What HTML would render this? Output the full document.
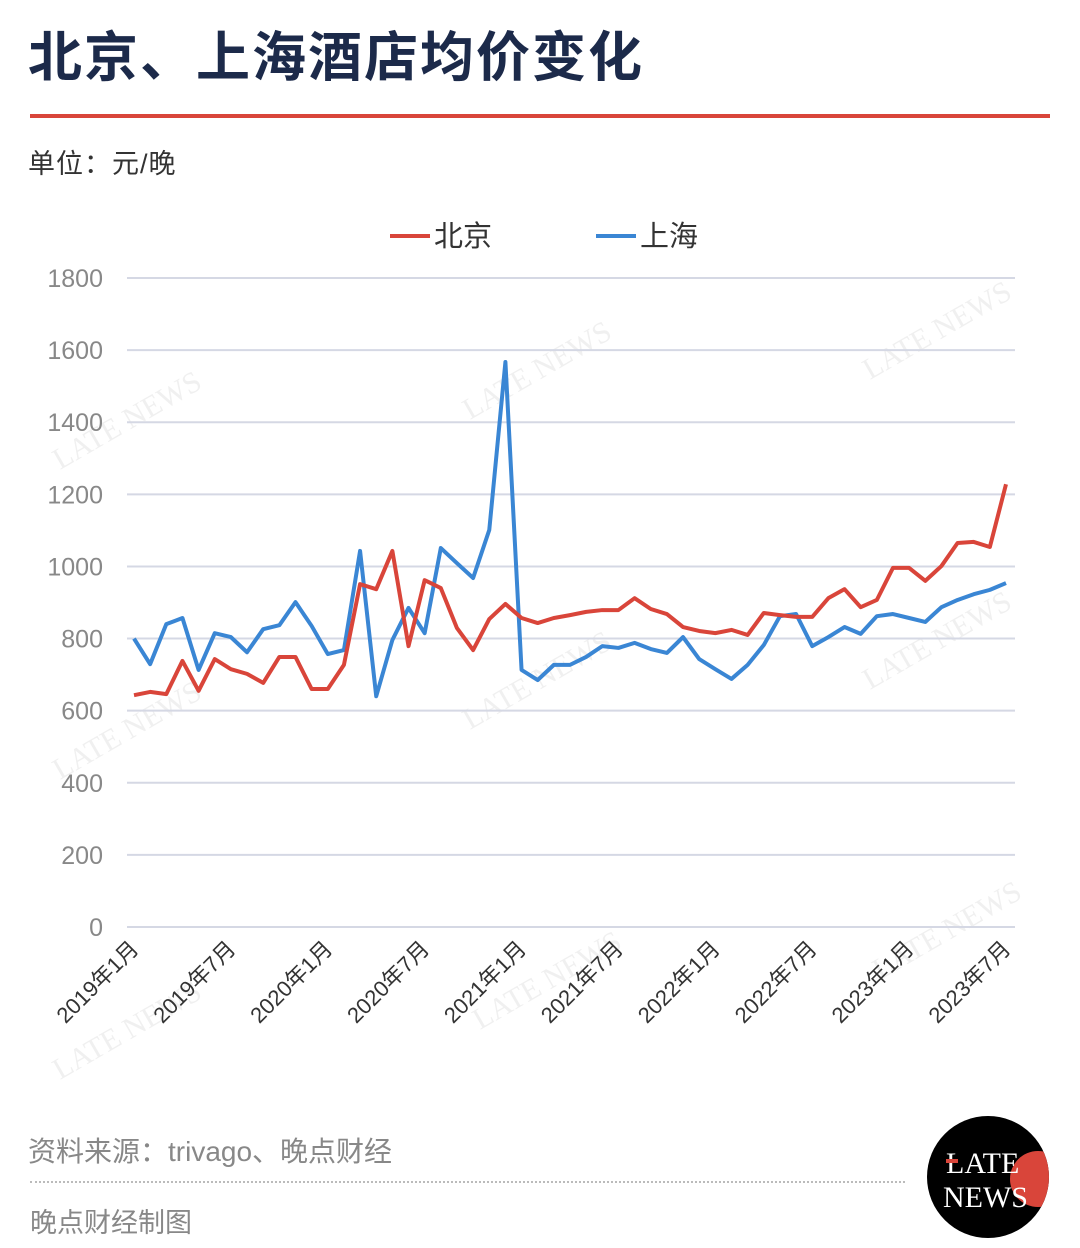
<!DOCTYPE html>
<html><head><meta charset="utf-8"><style>
body{margin:0;background:#fff;width:1080px;height:1248px;overflow:hidden;position:relative;font-family:"Liberation Sans","Noto Sans CJK SC",sans-serif}
.abs{position:absolute}
</style></head><body>
<div class="abs" style="left:28px;top:13px;font-size:54px;font-weight:bold;color:#1c2a4a;letter-spacing:2px">北京、上海酒店均价变化</div>
<div class="abs" style="left:30px;top:114px;width:1020px;height:4px;background:#d9453a"></div>
<div class="abs" style="left:28px;top:142px;font-size:27px;color:#333;letter-spacing:1px">单位：元/晚</div>
<svg class="abs" style="left:0;top:0" width="1080" height="1248" id="chart">
<g id="wm" fill="#e6e6e6" font-family="Liberation Serif,serif" font-size="30" opacity="0.6"></g>
<g id="grid"></g><g id="lines"></g><g id="xl"></g>
<g>
<line x1="390" y1="236" x2="430" y2="236" stroke="#d9453a" stroke-width="4"/>
<text x="434" y="246" font-size="29" fill="#333">北京</text>
<line x1="596" y1="236" x2="636" y2="236" stroke="#3a86d4" stroke-width="4"/>
<text x="640" y="246" font-size="29" fill="#333">上海</text>
</g>
</svg>
<div class="abs" style="left:28px;top:1130px;font-size:28px;color:#888">资料来源：trivago、晚点财经</div>
<div class="abs" style="left:30px;top:1181px;width:875px;border-top:2px dotted #bbb"></div>
<div class="abs" style="left:30px;top:1201px;font-size:27px;color:#888">晚点财经制图</div>
<svg class="abs" style="left:926px;top:1115px" width="126" height="126">
<defs><clipPath id="c"><circle cx="62" cy="62" r="61"/></clipPath></defs>
<circle cx="62" cy="62" r="61" fill="#000"/>
<circle cx="112" cy="64" r="28" fill="#d9453a" clip-path="url(#c)"/>
<text x="20" y="58" fill="#fff" font-family="Liberation Serif,serif" font-size="30">LATE</text>
<rect x="20" y="44" width="12" height="4" fill="#d9453a"/>
<text x="17" y="92" fill="#fff" font-family="Liberation Serif,serif" font-size="30">NEWS</text>
</svg>
<script>
const categories=[];for(let y=2019;y<=2023;y++)for(let m=1;m<=12;m++){if(y===2023&&m>7)break;categories.push(y+'年'+m+'月');}
const beijing=[643,652,646,738,655,743,715,702,677,749,749,660,660,727,951,937,1043,779,962,940,829,768,854,896,857,843,857,865,874,879,879,912,882,868,832,821,815,824,810,871,865,860,860,912,937,887,907,996,996,960,1001,1065,1068,1054,1228];
const shanghai=[800,729,840,857,713,815,804,762,826,837,901,835,757,768,1043,640,796,885,815,1051,1009,968,1101,1567,713,685,727,727,749,779,774,788,771,760,804,743,715,688,727,782,862,868,779,804,832,813,862,868,857,846,887,907,923,935,954];
const yTicks=[0,200,400,600,800,1000,1200,1400,1600,1800];
const NS='http://www.w3.org/2000/svg';
const X=i=>134+i*(1006-134)/(categories.length-1);
const Y=v=>927-v*(927-278)/1800;
function mk(t,a,p){const e=document.createElementNS(NS,t);for(const k in a)e.setAttribute(k,a[k]);p.appendChild(e);return e;}
const grid=document.getElementById('grid');
yTicks.forEach(v=>{const l=mk('line',{x1:127,x2:1015,y1:Y(v),y2:Y(v),stroke:'#d5d8e4','stroke-width':2},grid);


const t=mk('text',{x:103,y:Y(v)+9,'text-anchor':'end','font-size':25,fill:'#888'},grid);t.textContent=v;

});
const xl=document.getElementById('xl');
categories.forEach((c,i)=>{if(i%6)return;const x=X(i);
const t=mk('text',{x:x+6,y:950,'text-anchor':'end','font-size':22,fill:'#333',transform:`rotate(-45 ${x+6} 950)`},xl);t.textContent=c;

});
const lines=document.getElementById('lines');
[[shanghai,'#3a86d4','shanghai-line'],[beijing,'#d9453a','beijing-line']].forEach(([d,col,n])=>{
const p=mk('polyline',{points:d.map((v,i)=>X(i)+','+Y(v)).join(' '),fill:'none',stroke:col,'stroke-width':4,'stroke-linejoin':'round'},lines);

});
const wm=document.getElementById('wm');
[[60,470],[470,420],[870,380],[60,780],[470,730],[870,690],[60,1080],[480,1030],[880,980]].forEach(([x,y])=>{
const t=mk('text',{x:x,y:y,transform:`rotate(-30 ${x} ${y})`},wm);t.textContent='LATE NEWS';

});
</script>
</body></html>
